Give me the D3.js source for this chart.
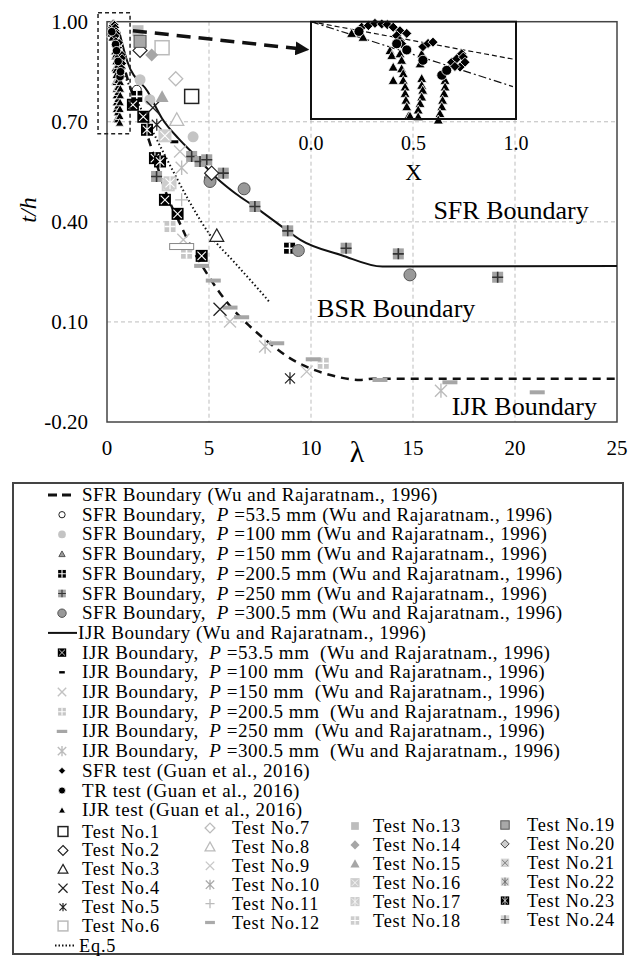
<!DOCTYPE html>
<html><head><meta charset="utf-8">
<script src="https://cdn.jsdelivr.net/npm/d3@7"></script>
<style>
body{margin:0;background:#fff}
text{font-family:"Liberation Serif","Times New Roman",serif;white-space:pre;fill:#000}
</style>
</head><body><svg id="c" width="642" height="963"></svg>
<script>
// ---------------- DATA ----------------
const xTicks=[0,5,10,15,20,25];
const yTicks=[-0.2,0.1,0.4,0.7,1.0];
const yTickLabels=["-0.20","0.10","0.40","0.70","1.00"];
const insetTicks=[0,0.5,1.0];
const insetTickLabels=["0.0","0.5","1.0"];

// curves [lambda, t/h]
const sfrBoundaryLine=[[0.4,0.97],[1,0.83],[1.5,0.74],[2,0.655],[2.5,0.56],[3,0.47],[3.5,0.405],[4,0.34],[4.5,0.285],[5,0.235],[5.5,0.19],[6,0.15],[7,0.087],[8,0.035],[9,-0.01],[10,-0.04],[11,-0.06],[12.4,-0.074],[13,-0.07],[25,-0.07]];
const ijrBoundaryLine=[[0.6,0.97],[1,0.88],[2,0.79],[2.7,0.71],[3.5,0.65],[4.3,0.6],[5.4,0.53],[6.3,0.485],[7.25,0.445],[8.7,0.38],[9.5,0.345],[11.5,0.3],[13.5,0.266],[25,0.268]];
const eq5Line=[[0.7,0.86],[1,0.82],[2,0.70],[3,0.58],[4,0.465],[5,0.365],[6.3,0.275],[7.75,0.175],[8,0.157]];
const arrowLine=[[1.27,0.973],[9.85,0.916]];
const zoomBox=[[-0.44,1.027],[1.13,0.664]];

// inset lines [X, t/h]
const insetDashed=[[0,1.0],[1,0.883]];
const insetDashDot=[[0,1.0],[0.985,0.80]];

// Guan et al. 2016 tests (shown in inset and in the dashed box)
const guanSFR=[[0.247,0.983],[0.28,0.988],[0.312,0.995],[0.345,0.993],[0.372,0.991],[0.401,0.983],[0.434,0.972],[0.467,0.964],[0.418,0.957],[0.434,0.942],[0.442,0.932],[0.546,0.923],[0.571,0.933],[0.595,0.937],[0.686,0.875],[0.711,0.886],[0.735,0.901],[0.743,0.891],[0.751,0.875],[0.727,0.860],[0.702,0.862]];
const guanTR=[[0.234,0.970],[0.418,0.932],[0.467,0.913],[0.546,0.881],[0.638,0.835],[0.662,0.850]];
const guanIJR=[[0.198,0.964],[0.254,0.952],[0.385,0.911],[0.394,0.896],[0.401,0.860],[0.401,0.819],[0.434,0.901],[0.442,0.881],[0.442,0.855],[0.45,0.840],[0.45,0.819],[0.459,0.799],[0.459,0.779],[0.463,0.758],[0.467,0.738],[0.475,0.709],[0.483,0.709],[0.54,0.901],[0.532,0.870],[0.54,0.825],[0.54,0.804],[0.545,0.789],[0.54,0.768],[0.532,0.748],[0.523,0.728],[0.523,0.707],[0.654,0.819],[0.654,0.799],[0.649,0.779],[0.642,0.758],[0.638,0.738],[0.629,0.717],[0.621,0.697]];

// Wu and Rajaratnam 1996
const sfrP53=[[1.46,0.796],[5.0,0.53]];
const sfrP100=[[1.62,0.826],[2.1,0.766],[4.22,0.655]];
const sfrP150=[];
const sfrP200=[[1.46,0.776],[8.95,0.321]];
const sfrP250=[[2.43,0.536],[4.15,0.596],[4.56,0.581],[4.89,0.586],[5.7,0.546],[7.25,0.446],[8.86,0.373],[11.72,0.321],[14.28,0.304],[19.15,0.234]];
const sfrP300=[[5.05,0.521],[6.72,0.499],[9.38,0.314],[14.85,0.241]];
const ijrP53=[[1.27,0.751],[1.78,0.715],[2.84,0.466],[3.46,0.424],[4.64,0.298]];
const ijrP100=[[3.3,0.64]];
const ijrP150=[[3.58,0.611],[3.74,0.346],[6.03,0.101],[9.79,-0.049]];
const ijrP200=[[3.09,0.386],[3.9,0.306],[10.6,-0.024]];
const ijrP250=[[4.64,0.268],[5.21,0.224],[6.03,0.143],[6.6,0.114],[8.32,0.036],[10.11,-0.012],[13.38,-0.074],[16.81,-0.081],[21.09,-0.111]];
const ijrP300=[[3.66,0.562],[7.75,0.026],[16.37,-0.106]];

// Test No.1 - 24
const test1=[[4.15,0.776]];
const test2=[[1.62,0.914],[5.13,0.546]];
const test3=[[5.38,0.358]];
const test4=[[2.25,0.742],[5.54,0.138]];
const test5=[[2.44,0.691],[8.97,-0.069]];
const test6=[[2.7,0.922]];
const test7=[[3.37,0.829]];
const test8=[[3.42,0.706]];
const test9=[];
const test10=[];
const test11=[[3.66,0.466]];
const test12=[[3.66,0.326]];
const test13=[[1.52,0.973]];
const test14=[[2.19,0.90]];
const test15=[[2.7,0.775]];
const test16=[[2.84,0.658],[3.0,0.511]];
const test17=[[3.09,0.517]];
const test18=[];
const test19=[[1.62,0.941]];
const test20=[];
const test21=[];
const test22=[];
const test23=[[1.96,0.676],[2.35,0.591],[2.6,0.581]];
const test24=[];

const regionLabels=["SFR Boundary","BSR Boundary","IJR Boundary"];
const regionLabelPos=[[16.0,0.41],[10.3,0.115],[16.9,-0.179]];

const legendLabels=[
"SFR Boundary (Wu and Rajaratnam., 1996)",
"SFR Boundary,  {P} =53.5 mm (Wu and Rajaratnam., 1996)",
"SFR Boundary,  {P} =100 mm (Wu and Rajaratnam., 1996)",
"SFR Boundary,  {P} =150 mm (Wu and Rajaratnam., 1996)",
"SFR Boundary,  {P} =200.5 mm (Wu and Rajaratnam., 1996)",
"SFR Boundary,  {P} =250 mm (Wu and Rajaratnam., 1996)",
"SFR Boundary,  {P} =300.5 mm (Wu and Rajaratnam., 1996)",
"IJR Boundary (Wu and Rajaratnam., 1996)",
"IJR Boundary,  {P} =53.5 mm  (Wu and Rajaratnam., 1996)",
"IJR Boundary,  {P} =100 mm  (Wu and Rajaratnam., 1996)",
"IJR Boundary,  {P} =150 mm  (Wu and Rajaratnam., 1996)",
"IJR Boundary,  {P} =200.5 mm  (Wu and Rajaratnam., 1996)",
"IJR Boundary,  {P} =250 mm  (Wu and Rajaratnam., 1996)",
"IJR Boundary,  {P} =300.5 mm  (Wu and Rajaratnam., 1996)",
"SFR test (Guan et al., 2016)",
"TR test (Guan et al., 2016)",
"IJR test (Guan et al., 2016)"];
const legendKeys=["lineSFR","sfrP53","sfrP100","sfrP150","sfrP200","sfrP250","sfrP300","lineIJR","ijrP53","ijrP100","ijrP150","ijrP200","ijrP250","ijrP300","guanSFR","guanTR","guanIJR"];
const testLabels=d3.range(1,25).map(i=>"Test No."+i);
const eq5Label="Eq.5";

// ---------------- STYLES ----------------
const S={
 sfrP53:{type:"circle",size:9,fill:"#fff",stroke:"#222",sw:1},
 sfrP100:{type:"circle",size:11,fill:"#c4c4c4"},
 sfrP150:{type:"triangle",size:9,fill:"#9a9a9a",stroke:"#555",sw:1},
 sfrP200:{type:"square",size:11,fill:"#000",inner:"plus",ic:"#fff"},
 sfrP250:{type:"square",size:11,fill:"#a3a3a3",inner:"plus",ic:"#333"},
 sfrP300:{type:"circle",size:12,fill:"#999",stroke:"#555",sw:1},
 ijrP53:{type:"square",size:12,fill:"#000",inner:"x",ic:"#fff"},
 ijrP100:{type:"dash",size:8,th:3,fill:"#000"},
 ijrP150:{type:"x",size:12,stroke:"#c2c2c2",sw:1.4},
 ijrP200:{type:"square",size:11,fill:"#c6c6c6",inner:"plus",ic:"#fff"},
 ijrP250:{type:"dash",size:15,th:4,fill:"#a6a6a6"},
 ijrP300:{type:"asterisk",size:12,stroke:"#bcbcbc",sw:1.4},
 guanSFR:{type:"diamond",size:10,fill:"#000",stroke:"#fff",sw:0.8},
 guanTR:{type:"circle",size:10,fill:"#000",stroke:"#fff",sw:0.8},
 guanIJR:{type:"triangle",size:10,fill:"#000",stroke:"#fff",sw:0.8},
 test1:{type:"square",size:14,fill:"#fff",stroke:"#222",sw:1.5},
 test2:{type:"diamond",size:14,fill:"#fff",stroke:"#222",sw:1.2},
 test3:{type:"triangle",size:14,fill:"#fff",stroke:"#222",sw:1.2},
 test4:{type:"x",size:13,stroke:"#222",sw:1.3},
 test5:{type:"asterisk",size:10,stroke:"#222",sw:1.2},
 test6:{type:"square",size:14,fill:"#fff",stroke:"#bbb",sw:1.5},
 test7:{type:"diamond",size:14,fill:"#fff",stroke:"#bbb",sw:1.3},
 test8:{type:"triangle",size:14,fill:"#fff",stroke:"#bbb",sw:1.3},
 test9:{type:"x",size:12,stroke:"#c8c8c8",sw:1.3},
 test10:{type:"asterisk",size:12,stroke:"#aaa",sw:1.3},
 test11:{type:"plus",size:13,stroke:"#bbb",sw:1.3},
 test12:{type:"dash",size:24,th:6,fill:"#fff",stroke:"#888",sw:1,legend:{type:"dash",size:14,th:4,fill:"#aaa"}},
 test13:{type:"square",size:11,fill:"#bdbdbd"},
 test14:{type:"diamond",size:13,fill:"#a6a6a6"},
 test15:{type:"triangle",size:13,fill:"#a6a6a6"},
 test16:{type:"square",size:13,fill:"#cdcdcd",inner:"x",ic:"#fff"},
 test17:{type:"square",size:13,fill:"#cdcdcd",inner:"ast",ic:"#fff"},
 test18:{type:"square",size:12,fill:"#cdcdcd",inner:"plus",ic:"#fff"},
 test19:{type:"square",size:12,fill:"#a8a8a8",stroke:"#555",sw:1},
 test20:{type:"diamond",size:12,fill:"#ccc",stroke:"#444",sw:1},
 test21:{type:"square",size:12,fill:"#d4d4d4",inner:"x",ic:"#666"},
 test22:{type:"square",size:12,fill:"#d4d4d4",inner:"ast",ic:"#555"},
 test23:{type:"square",size:12,fill:"#000",inner:"ast",ic:"#fff"},
 test24:{type:"square",size:12,fill:"#d4d4d4",inner:"plus",ic:"#555"}
};
const seriesData={sfrP53,sfrP100,sfrP150,sfrP200,sfrP250,sfrP300,ijrP53,ijrP100,ijrP150,ijrP200,ijrP250,ijrP300,
 test1,test2,test3,test4,test5,test6,test7,test8,test9,test10,test11,test12,test13,test14,test15,test16,test17,test18,test19,test20,test21,test22,test23,test24};

function drawMarker(g,st,scale){
  scale=scale||1;
  const h=st.size/2*scale;
  const fill=st.fill||"none",stroke=st.stroke||"none",sw=st.sw||1;
  let el;
  switch(st.type){
    case "circle": el=g.append("circle").attr("r",h);break;
    case "square": el=g.append("rect").attr("x",-h).attr("y",-h).attr("width",2*h).attr("height",2*h);break;
    case "diamond": el=g.append("path").attr("d",`M0,${-h}L${h},0L0,${h}L${-h},0Z`);break;
    case "triangle": el=g.append("path").attr("d",`M0,${-h}L${h},${h*0.8}L${-h},${h*0.8}Z`);break;
    case "x": el=g.append("path").attr("d",`M${-h},${-h}L${h},${h}M${-h},${h}L${h},${-h}`);break;
    case "plus": el=g.append("path").attr("d",`M${-h},0L${h},0M0,${-h}L0,${h}`);break;
    case "asterisk": el=g.append("path").attr("d",`M${-h},${-h}L${h},${h}M${-h},${h}L${h},${-h}M0,${-h*1.2}L0,${h*1.2}`);break;
    case "dash": {const t=(st.th||3)*Math.max(scale,0.8);el=g.append("rect").attr("x",-h).attr("y",-t/2).attr("width",2*h).attr("height",t);break;}
  }
  el.attr("fill",["x","plus","asterisk"].includes(st.type)?"none":fill).attr("stroke",stroke).attr("stroke-width",sw);
  if(st.inner){
    const k=h*0.7,c=st.ic;
    let d="";
    if(st.inner==="x") d=`M${-k},${-k}L${k},${k}M${-k},${k}L${k},${-k}`;
    if(st.inner==="plus") d=`M${-h},0L${h},0M0,${-h}L0,${h}`;
    if(st.inner==="ast") d=`M${-k},${-k}L${k},${k}M${-k},${k}L${k},${-k}M0,${-h}L0,${h}`;
    g.append("path").attr("d",d).attr("stroke",c).attr("stroke-width",st.inner==="plus"?1.6*scale:1.1*scale).attr("fill","none");
  }
}

// ---------------- CHART ----------------
const svg=d3.select("#c");
const x=d3.scaleLinear().domain([0,25]).range([107,617]);
const y=d3.scaleLinear().domain([-0.2,1.0]).range([422,21.7]);
const ix=d3.scaleLinear().domain([0,1]).range([311,516]);
const iy=d3.scaleLinear().domain([0.7,1.0]).range([119,21.7]);

// gridlines
svg.append("g").selectAll("line").data(xTicks.filter(v=>v>0&&v<25)).join("line")
 .attr("x1",d=>x(d)).attr("x2",d=>x(d)).attr("y1",y(1.0)).attr("y2",y(-0.2))
 .attr("stroke","#bdbdbd").attr("stroke-dasharray","4,3");
svg.append("g").selectAll("line").data(yTicks.filter(v=>v>-0.2&&v<1)).join("line")
 .attr("y1",d=>y(d)).attr("y2",d=>y(d)).attr("x1",x(0)).attr("x2",x(25))
 .attr("stroke","#bdbdbd").attr("stroke-dasharray","4,3");

// frame
svg.append("rect").attr("x",x(0)).attr("y",y(1.0)).attr("width",x(25)-x(0)).attr("height",y(-0.2)-y(1.0))
 .attr("fill","none").attr("stroke","#444").attr("stroke-width",1.5);

// tick labels
svg.append("g").selectAll("text").data(xTicks).join("text")
 .attr("x",d=>x(d)).attr("y",455).attr("text-anchor","middle").attr("font-size",21).text(d=>d);
svg.append("g").selectAll("text").data(yTicks).join("text")
 .attr("x",88).attr("y",d=>y(d)+7).attr("text-anchor","end").attr("font-size",21).text((d,i)=>yTickLabels[i]);
svg.append("text").attr("x",357).attr("y",462).attr("text-anchor","middle").attr("font-size",30).text("λ");
svg.append("text").attr("transform","translate(36,210) rotate(-90)").attr("text-anchor","middle")
 .attr("font-size",24).attr("font-style","italic").text("t/h");

// curves
const line=d3.line().x(d=>x(d[0])).y(d=>y(d[1])).curve(d3.curveMonotoneX);
svg.append("path").attr("d",line(ijrBoundaryLine)).attr("fill","none").attr("stroke","#111").attr("stroke-width",2);
svg.append("path").attr("d",line(sfrBoundaryLine)).attr("fill","none").attr("stroke","#111").attr("stroke-width",2.5).attr("stroke-dasharray","8,6");
svg.append("path").attr("d",line(eq5Line)).attr("fill","none").attr("stroke","#111").attr("stroke-width",2).attr("stroke-dasharray","1.5,2.5");

// markers main plot
Object.keys(seriesData).forEach(k=>{
  seriesData[k].forEach(p=>{
    const g=svg.append("g").attr("transform",`translate(${x(p[0])},${y(p[1])})`);
    drawMarker(g,S[k],1);
  });
});
[["guanIJR",guanIJR],["guanSFR",guanSFR],["guanTR",guanTR]].forEach(([k,arr])=>{
  arr.forEach(p=>{
    const g=svg.append("g").attr("transform",`translate(${x(p[0])},${y(p[1])})`);
    drawMarker(g,S[k],0.85);
  });
});

// zoom box
svg.append("rect").attr("x",x(zoomBox[0][0])).attr("y",y(zoomBox[0][1]))
 .attr("width",x(zoomBox[1][0])-x(zoomBox[0][0])).attr("height",y(zoomBox[1][1])-y(zoomBox[0][1]))
 .attr("fill","none").attr("stroke","#222").attr("stroke-width",1.5).attr("stroke-dasharray","4,3");

// arrow
svg.append("defs").append("marker").attr("id","ah").attr("viewBox","0 0 10 10").attr("refX",9).attr("refY",5)
 .attr("markerWidth",4).attr("markerHeight",4).attr("orient","auto").attr("markerUnits","strokeWidth")
 .append("path").attr("d","M0,0L10,5L0,10Z").attr("fill","#111");
svg.append("path").attr("d",d3.line().x(d=>x(d[0])).y(d=>y(d[1]))(arrowLine))
 .attr("stroke","#111").attr("stroke-width",3.5).attr("stroke-dasharray","14,8").attr("fill","none").attr("marker-end","url(#ah)");

// inset
const inset=svg.append("g");
inset.append("rect").attr("x",ix(0)).attr("y",iy(1.0)).attr("width",ix(1)-ix(0)).attr("height",iy(0.7)-iy(1.0))
 .attr("fill","#fff").attr("stroke","none");
const il=d3.line().x(d=>ix(d[0])).y(d=>iy(d[1]));
inset.append("path").attr("d",il(insetDashed)).attr("stroke","#111").attr("stroke-width",1.2).attr("stroke-dasharray","5,3").attr("fill","none");
inset.append("path").attr("d",il(insetDashDot)).attr("stroke","#111").attr("stroke-width",1.2).attr("stroke-dasharray","8,3,2,3").attr("fill","none");
[["guanIJR",guanIJR],["guanSFR",guanSFR],["guanTR",guanTR]].forEach(([k,arr])=>{
  arr.forEach(p=>{
    const g=inset.append("g").attr("transform",`translate(${ix(p[0])},${iy(p[1])})`);
    drawMarker(g,S[k],1);
  });
});
inset.append("rect").attr("x",ix(0)).attr("y",iy(1.0)).attr("width",ix(1)-ix(0)).attr("height",iy(0.7)-iy(1.0))
 .attr("fill","none").attr("stroke","#111").attr("stroke-width",2);
inset.append("g").selectAll("text").data(insetTicks).join("text")
 .attr("x",d=>ix(d)).attr("y",150).attr("text-anchor","middle").attr("font-size",20).text((d,i)=>insetTickLabels[i]);
inset.append("text").attr("x",ix(0.5)).attr("y",180).attr("text-anchor","middle").attr("font-size",23).text("X");

// region labels
svg.append("g").selectAll("text").data(regionLabels).join("text")
 .attr("x",(d,i)=>x(regionLabelPos[i][0])).attr("y",(d,i)=>y(regionLabelPos[i][1]))
 .attr("font-size",26).text(d=>d);

// ---------------- LEGEND ----------------
const FS=19, LS=0.55, FS2=18.3, LS2=0.8;
const L=svg.append("g");
L.append("rect").attr("x",13).attr("y",483).attr("width",610).attr("height",471).attr("fill","#fff")
 .attr("stroke","#444").attr("stroke-width",2);
legendLabels.forEach((lab,i)=>{
  const cy=495+19.7*i;
  const key=legendKeys[i];
  let tx=82;
  if(key==="lineSFR"){
    L.append("line").attr("x1",48).attr("x2",76).attr("y1",cy).attr("y2",cy).attr("stroke","#111").attr("stroke-width",3).attr("stroke-dasharray","9,5");
  } else if(key==="lineIJR"){
    L.append("line").attr("x1",48).attr("x2",77).attr("y1",cy).attr("y2",cy).attr("stroke","#111").attr("stroke-width",2);
    tx=78;
  } else {
    const g=L.append("g").attr("transform",`translate(62,${cy})`);
    const st=S[key];
    drawMarker(g,st.legend||st,0.7);
  }
  const t=L.append("text").attr("x",tx).attr("y",cy+6).attr("font-size",FS).attr("letter-spacing",LS);
  const parts=lab.split("{P}");
  t.append("tspan").text(parts[0]);
  if(parts.length>1){
    t.append("tspan").attr("font-style","italic").text("P");
    t.append("tspan").text(parts[1]);
  }
});
const colX=[[63,82],[210,232],[355,373],[505,527]];
const colY0=[831.5,828,826,825];
testLabels.forEach((lab,i)=>{
  const c=Math.floor(i/6), r=i%6;
  const cy=colY0[c]+18.9*r;
  const key="test"+(i+1);
  const st=S[key];
  const g=L.append("g").attr("transform",`translate(${colX[c][0]},${cy})`);
  drawMarker(g,st.legend||st,0.7);
  L.append("text").attr("x",colX[c][1]).attr("y",cy+6).attr("font-size",FS2).attr("letter-spacing",LS2).text(lab);
});
L.append("line").attr("x1",55).attr("x2",75).attr("y1",945.5).attr("y2",945.5).attr("stroke","#111").attr("stroke-width",1.8).attr("stroke-dasharray","1.5,2");
L.append("text").attr("x",79).attr("y",951.5).attr("font-size",FS2).attr("letter-spacing",LS2).text(eq5Label);
</script></body></html>
